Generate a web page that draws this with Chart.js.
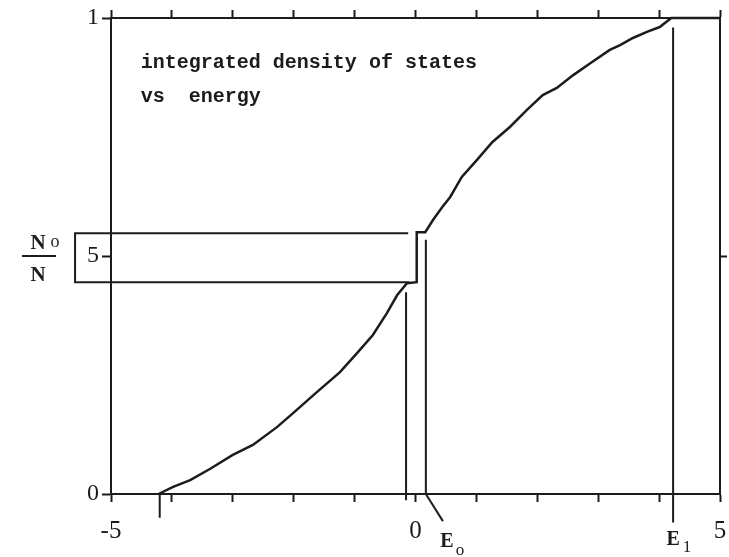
<!DOCTYPE html>
<html lang="en">
<head>
<meta charset="UTF-8">
<title>integrated density of states vs energy</title>
<script src="https://cdn.jsdelivr.net/npm/chart.js@4.4.1/dist/chart.umd.min.js"></script>
<style>
  html, body { margin: 0; padding: 0; background: #fff; }
</style>
</head>
<body>
<canvas id="chart" width="729" height="557"></canvas>
<script>
// integrated density of states N(E)/N
const energy = [-4.22, -3.98, -3.7, -3.37, -3.0, -2.67, -2.27, -2.01, -1.62, -1.24, -0.96, -0.7, -0.47, -0.3, -0.14,
  0.02, 0.02, 0.16, 0.29, 0.44, 0.57, 0.76, 1.01, 1.26, 1.55, 1.83, 2.09, 2.32, 2.59, 2.87, 3.19, 3.36, 3.57, 3.8, 4.01, 4.2, 5];
const idos = [0, 0.015, 0.029, 0.053, 0.082, 0.103, 0.141, 0.17, 0.214, 0.256, 0.296, 0.334, 0.38, 0.418, 0.443,
  0.445, 0.55, 0.55, 0.576, 0.603, 0.624, 0.666, 0.702, 0.739, 0.771, 0.807, 0.838, 0.853, 0.88, 0.905, 0.933, 0.943, 0.958, 0.971, 0.981, 1.0, 1.0];

// the N0/N gap box (open on the right, closed by the jump)
const boxE = [-0.12, -5.59, -5.59, -0.1];
const boxN = [0.548, 0.548, 0.445, 0.445];

// marker lines: band edge, the two lines round the gap, E0 pointer, E1
const bandEdgeE = [-4.2, -4.2];
const bandEdgeN = [0, -0.05];
const leftGapE = [-0.155, -0.155];
const leftGapN = [0.424, -0.013];
const e0E = [0.17, 0.17, 0.45];
const e0N = [0.534, 0, -0.057];
const e1E = [4.23, 4.23];
const e1N = [0.98, -0.06];

// axes
const xMin = -5, xMax = 5;
const xLabelValues = [-5, 0, 5];
const xLabelText = ['-5', '0', '5'];
const yTickValues = [0, 0.5, 1];
const yTickText = ['0', '5', '1'];
const yRightTicks = [0.5];

// text
const titleLines = ['integrated density of states', 'vs  energy'];
const titleAt = [[-4.51, 0.895], [-4.51, 0.824]];

const ink = '#1c1c1c';
const pts = (xs, ys) => xs.map((v, i) => ({ x: v, y: ys[i] }));

const markerSet = (xs, ys) => ({
  data: pts(xs, ys),
  borderColor: ink,
  borderWidth: 2,
  pointRadius: 0,
  clip: false,
});

const annotate = {
  id: 'annotate',
  afterDraw(chart) {
    const { ctx } = chart;
    const x = chart.scales.x;
    const y = chart.scales.y;
    ctx.save();
    ctx.fillStyle = ink;
    ctx.strokeStyle = ink;
    ctx.textBaseline = 'alphabetic';
    ctx.textAlign = 'left';

    // title
    ctx.font = 'bold 20px "Liberation Mono"';
    titleLines.forEach((t, i) => {
      ctx.fillText(t, x.getPixelForValue(titleAt[i][0]), y.getPixelForValue(titleAt[i][1]));
    });

    // E0 and E1 labels under the axis
    const base = y.getPixelForValue(0);
    ctx.font = 'bold 20px "Liberation Serif"';
    ctx.textAlign = 'center';
    const e0x = x.getPixelForValue(e0E[2]);
    ctx.fillText('E', e0x + 4, base + 53);
    const e1x = x.getPixelForValue(e1E[0]);
    ctx.fillText('E', e1x, base + 51);
    ctx.font = '17px "Liberation Serif"';
    ctx.fillText('o', e0x + 17, base + 61);
    ctx.fillText('1', e1x + 14, base + 58);

    // N0 / N fraction left of the axis
    const fx = x.left - 71;
    const fy = y.getPixelForValue(0.5);
    ctx.font = 'bold 21px "Liberation Serif"';
    ctx.fillText('N', fx - 2, fy - 7);
    ctx.fillText('N', fx - 2, fy + 25);
    ctx.font = '18px "Liberation Serif"';
    ctx.fillText('o', fx + 15, fy - 9);
    ctx.lineWidth = 2;
    ctx.beginPath();
    ctx.moveTo(fx - 18, fy);
    ctx.lineTo(fx + 16, fy);
    ctx.stroke();
    ctx.restore();
  }
};

const frameGrid = (len) => ({
  drawOnChartArea: false,
  drawTicks: true,
  tickLength: len,
  tickWidth: 2,
  tickColor: ink,
});
const frameBorder = { display: true, color: ink, width: 2 };

// keep the frame where it is in the picture: no extra room for end labels
const noEdgePadding = (s) => { s.paddingLeft = 0; s.paddingRight = 0; };

new Chart(document.getElementById('chart'), {
  type: 'line',
  data: {
    datasets: [
      {
        data: pts(energy, idos),
        borderColor: ink,
        borderWidth: 2.5,
        pointRadius: 0,
        tension: 0,
        clip: false,
      },
      {
        data: pts(boxE, boxN),
        borderColor: ink,
        borderWidth: 2,
        pointRadius: 0,
        clip: false,
      },
      markerSet(bandEdgeE, bandEdgeN),
      markerSet(leftGapE, leftGapN),
      markerSet(e0E, e0N),
      markerSet(e1E, e1N),
    ],
  },
  options: {
    responsive: false,
    animation: false,
    devicePixelRatio: 1,
    layout: { padding: 0 },
    plugins: {
      legend: { display: false },
      tooltip: { enabled: false },
    },
    scales: {
      x: {
        type: 'linear',
        position: 'bottom',
        min: xMin,
        max: xMax,
        grid: frameGrid(8),
        border: frameBorder,
        ticks: {
          stepSize: 1,
          autoSkip: false,
          maxRotation: 0,
          padding: 14,
          color: ink,
          font: { family: 'Liberation Serif', size: 25 },
          callback: (v) => {
            const i = xLabelValues.indexOf(v);
            return i >= 0 ? xLabelText[i] : '';
          },
        },
        afterFit: (s) => { s.height = 63; noEdgePadding(s); },
      },
      xTop: {
        type: 'linear',
        position: 'top',
        min: xMin,
        max: xMax,
        grid: frameGrid(8),
        border: frameBorder,
        ticks: { stepSize: 1, display: false },
        afterFit: (s) => { s.height = 18; noEdgePadding(s); },
      },
      y: {
        type: 'linear',
        position: 'left',
        min: 0,
        max: 1,
        grid: frameGrid(9),
        border: frameBorder,
        ticks: {
          padding: 3,
          color: ink,
          font: { family: 'Liberation Serif', size: 24 },
          callback: (v) => {
            const i = yTickValues.indexOf(v);
            return i >= 0 ? yTickText[i] : '';
          },
        },
        afterBuildTicks: (s) => { s.ticks = yTickValues.map((v) => ({ value: v })); },
        afterFit: (s) => { s.width = 111; },
      },
      yRight: {
        type: 'linear',
        position: 'right',
        min: 0,
        max: 1,
        grid: frameGrid(7),
        border: frameBorder,
        ticks: { display: false },
        afterBuildTicks: (s) => { s.ticks = yRightTicks.map((v) => ({ value: v })); },
        afterFit: (s) => { s.width = 9; },
      },
    },
  },
  plugins: [annotate],
});
</script>
</body>
</html>
